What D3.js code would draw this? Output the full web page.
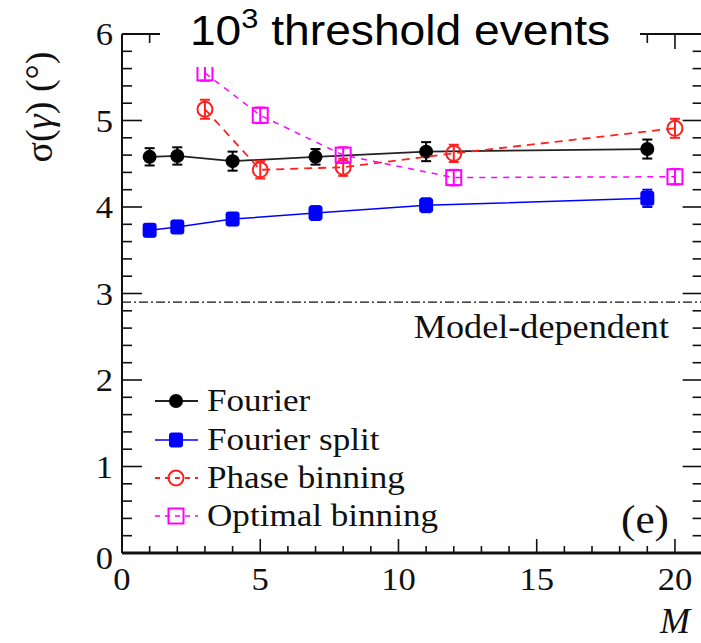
<!DOCTYPE html>
<html>
<head>
<meta charset="utf-8">
<script src="https://cdn.jsdelivr.net/npm/d3@7/dist/d3.min.js"></script>
<style>
  html, body { margin: 0; padding: 0; background: #fff; }
  svg { display: block; }
  .serif { font-family: "Liberation Serif", "Times New Roman", serif; fill: #111; }
</style>
</head>
<body>
<svg id="chart" width="701" height="643"></svg>
<script>
// Resolution sigma(gamma) versus number of bins M, 10^3 threshold events
const fourierM      = [1, 2, 4, 7, 11, 19];
const fourierSigma  = [4.58, 4.59, 4.53, 4.58, 4.64, 4.67];
const fourierErr    = [0.10, 0.10, 0.11, 0.09, 0.11, 0.11];

const splitM        = [1, 2, 4, 7, 11, 19];
const splitSigma    = [3.73, 3.77, 3.86, 3.93, 4.02, 4.10];
const splitErr      = [0.07, 0.07, 0.07, 0.08, 0.08, 0.10];

const phaseM        = [3, 5, 8, 12, 20];
const phaseSigma    = [5.13, 4.43, 4.46, 4.62, 4.91];
const phaseErr      = [0.11, 0.10, 0.10, 0.10, 0.11];

const optimalM      = [3, 5, 8, 12, 20];
const optimalSigma  = [5.55, 5.06, 4.60, 4.34, 4.35];
const optimalErr    = [0.09, 0.09, 0.09, 0.09, 0.09];

const modelDependent = 2.9;

const xTicks = [0, 5, 10, 15, 20];
const yTicks = [0, 1, 2, 3, 4, 5, 6];
const legendNames = ["Fourier", "Fourier split", "Phase binning", "Optimal binning"];
const titleBase = "10", titleSup = "3", titleRest = " threshold events";
const xTitle = "M";
const bandLabel = "Model-dependent";
const panelLabel = "(e)";

const svg = d3.select("#chart");
const L = 122, R = 702.6, T = 34, B = 553;
const x = d3.scaleLinear().domain([0, 21]).range([L, R]);
const y = d3.scaleLinear().domain([0, 6]).range([B, T]);

const stretch = 1.08;
function sText(g, tx, ty, str, size, anchor, extra) {
  const t = g.append("text")
    .attr("class", "serif")
    .attr("transform", `translate(${tx},${ty}) scale(${stretch},1)`)
    .attr("font-size", size)
    .attr("text-anchor", anchor || "start")
    .text(str);
  if (extra) extra(t);
  return t;
}

// ---- frame ticks ----
const axes = svg.append("g");
const xMinor = d3.range(0, 21.01, 1).filter(v => !xTicks.includes(v));
const yMinor = d3.range(0, 6.001, 0.2).map(v => +v.toFixed(1)).filter(v => !yTicks.includes(v));

// bottom & top ticks
xTicks.forEach(v => {
  axes.append("line").attr("x1", x(v)).attr("x2", x(v)).attr("y1", B).attr("y2", B - 14).attr("stroke", "#111").attr("stroke-width", 1.6);
  axes.append("line").attr("x1", x(v)).attr("x2", x(v)).attr("y1", T).attr("y2", T + 15).attr("stroke", "#111").attr("stroke-width", 1.6);
});
xMinor.forEach(v => {
  axes.append("line").attr("x1", x(v)).attr("x2", x(v)).attr("y1", B).attr("y2", B - 7).attr("stroke", "#111").attr("stroke-width", 1.6);
  axes.append("line").attr("x1", x(v)).attr("x2", x(v)).attr("y1", T).attr("y2", T + 9).attr("stroke", "#111").attr("stroke-width", 1.6);
});
// left & right ticks
yTicks.forEach(v => {
  axes.append("line").attr("x1", L).attr("x2", L + 20).attr("y1", y(v)).attr("y2", y(v)).attr("stroke", "#111").attr("stroke-width", 1.6);
  axes.append("line").attr("x1", R).attr("x2", R - 20).attr("y1", y(v)).attr("y2", y(v)).attr("stroke", "#111").attr("stroke-width", 1.6);
});
yMinor.forEach(v => {
  axes.append("line").attr("x1", L).attr("x2", L + 10).attr("y1", y(v)).attr("y2", y(v)).attr("stroke", "#111").attr("stroke-width", 1.6);
  axes.append("line").attr("x1", R).attr("x2", R - 10).attr("y1", y(v)).attr("y2", y(v)).attr("stroke", "#111").attr("stroke-width", 1.6);
});
// frame lines
axes.append("line").attr("x1", L).attr("x2", R).attr("y1", B).attr("y2", B).attr("stroke", "#111").attr("stroke-width", 3);
axes.append("line").attr("x1", L).attr("x2", R).attr("y1", T).attr("y2", T).attr("stroke", "#111").attr("stroke-width", 2);
axes.append("line").attr("x1", L).attr("x2", L).attr("y1", T).attr("y2", B).attr("stroke", "#111").attr("stroke-width", 2);
axes.append("line").attr("x1", R).attr("x2", R).attr("y1", T).attr("y2", B).attr("stroke", "#111").attr("stroke-width", 2);

// tick labels
xTicks.forEach(v => sText(axes, x(v), 590, String(v), 32, "middle"));
yTicks.forEach(v => sText(axes, L - 9, y(v) + 11 + (v === 0 ? 5 : 0), String(v), 32, "end"));

// axis titles
axes.append("text").attr("class", "serif")
  .attr("x", 690).attr("y", 633).attr("font-size", 36)
  .attr("font-style", "italic").attr("text-anchor", "end").text(xTitle);
const yt = axes.append("text").attr("class", "serif")
  .attr("transform", `translate(52,107) rotate(-90)`)
  .attr("font-size", 38).attr("text-anchor", "middle");
yt.append("tspan").text("\u03c3(");
yt.append("tspan").attr("font-style", "italic").text("\u03b3");
yt.append("tspan").text(") (\u00b0)");

// ---- model-dependent reference line ----
svg.append("line")
  .attr("x1", L).attr("x2", R).attr("y1", y(modelDependent)).attr("y2", y(modelDependent))
  .attr("stroke", "#111").attr("stroke-width", 1.3)
  .attr("stroke-dasharray", "9,3,2,3");
sText(svg, 669, 338, bandLabel, 33.5, "end");

// panel tag
sText(svg, 669, 533, panelLabel, 40, "end");

// ---- series ----
const series = [
  { M: fourierM, s: fourierSigma, e: fourierErr, color: "#000", lineColor: "#222", width: 1.8, dash: null, marker: "dot" },
  { M: splitM, s: splitSigma, e: splitErr, color: "#0000ff", lineColor: "#0000ff", width: 1.5, dash: null, marker: "fsquare" },
  { M: phaseM, s: phaseSigma, e: phaseErr, color: "#ff2020", lineColor: "#ff2020", width: 1.8, dash: "8,6", marker: "ocircle" },
  { M: optimalM, s: optimalSigma, e: optimalErr, color: "#ff00ff", lineColor: "#ff00ff", width: 1.5, dash: "6,6", marker: "osquare" }
];

function drawMarker(g, kind, color, cx, cy) {
  if (kind === "dot") {
    g.append("circle").attr("cx", cx).attr("cy", cy).attr("r", 7).attr("fill", color);
  } else if (kind === "fsquare") {
    g.append("rect").attr("x", cx - 7).attr("y", cy - 7.5).attr("width", 14).attr("height", 15).attr("rx", 3).attr("fill", color);
  } else if (kind === "ocircle") {
    g.append("circle").attr("cx", cx).attr("cy", cy).attr("r", 7.5).attr("fill", "none").attr("stroke", color).attr("stroke-width", 2);
  } else {
    g.append("rect").attr("x", cx - 7.5).attr("y", cy - 7.5).attr("width", 15).attr("height", 15).attr("fill", "none").attr("stroke", color).attr("stroke-width", 2);
  }
}

const plot = svg.append("g");
series.forEach(sr => {
  const pts = sr.M.map((m, i) => [m, sr.s[i], sr.e[i]]);
  const line = d3.line().x(d => x(d[0])).y(d => y(d[1]));
  const path = plot.append("path").attr("d", line(pts)).attr("fill", "none")
    .attr("stroke", sr.lineColor).attr("stroke-width", sr.width);
  if (sr.dash) path.attr("stroke-dasharray", sr.dash);
  const g = plot.append("g");
  pts.forEach(d => {
    const cx = x(d[0]);
    g.append("line").attr("x1", cx).attr("x2", cx).attr("y1", y(d[1] - d[2])).attr("y2", y(d[1] + d[2]))
      .attr("stroke", sr.color).attr("stroke-width", 2);
    [d[1] - d[2], d[1] + d[2]].forEach(v => {
      g.append("line").attr("x1", cx - 5).attr("x2", cx + 5).attr("y1", y(v)).attr("y2", y(v))
        .attr("stroke", sr.color).attr("stroke-width", 2);
    });
    drawMarker(g, sr.marker, sr.color, cx, y(d[1]));
  });
});

// ---- legend ----
const legend = svg.append("g");
const legendY = [401, 440, 478, 516];
series.forEach((sr, i) => {
  const ly = legendY[i];
  const seg = legend.append("line").attr("x1", 155).attr("x2", 198).attr("y1", ly).attr("y2", ly)
    .attr("stroke", sr.lineColor).attr("stroke-width", sr.width);
  if (sr.dash) seg.attr("stroke-dasharray", "5,5");
  drawMarker(legend, sr.marker, sr.color, 176, ly);
  sText(legend, 207, ly + 10, legendNames[i], 32.5, "start");
});

// ---- title with white backing box ----
const title = svg.append("g");
title.append("rect").attr("x", 160).attr("y", 0).attr("width", 480).attr("height", 67).attr("fill", "#fff");
const tt = title.append("text")
  .attr("transform", `translate(400,45) scale(1.1,1)`)
  .attr("text-anchor", "middle")
  .attr("font-family", "Liberation Sans, Arial, sans-serif")
  .attr("font-size", 42).attr("fill", "#000");
tt.append("tspan").text(titleBase);
tt.append("tspan").attr("font-size", 28).attr("dy", -17).text(titleSup);
tt.append("tspan").attr("dy", 17).text(titleRest);
</script>
</body>
</html>
